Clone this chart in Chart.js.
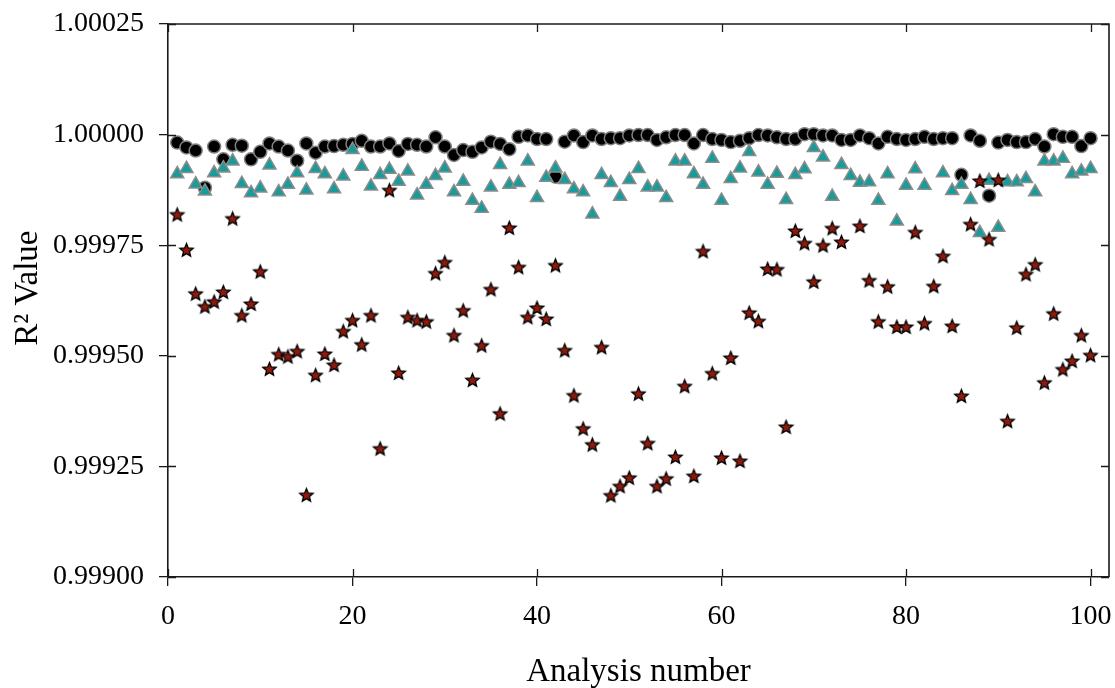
<!DOCTYPE html>
<html>
<head>
<meta charset="utf-8">
<script src="https://cdn.jsdelivr.net/npm/chart.js@4.4.1/dist/chart.umd.min.js"></script>
<style>
html,body{margin:0;padding:0;background:#fff;}
#wrap{width:1115px;height:688px;position:relative;}
</style>
</head>
<body>
<div id="wrap"><canvas id="c" width="1115" height="688"></canvas></div>
<script>
// ---------- data ----------
const analysisNumber = [1,2,3,4,5,6,7,8,9,10,11,12,13,14,15,16,17,18,19,20,
  21,22,23,24,25,26,27,28,29,30,31,32,33,34,35,36,37,38,39,40,
  41,42,43,44,45,46,47,48,49,50,51,52,53,54,55,56,57,58,59,60,
  61,62,63,64,65,66,67,68,69,70,71,72,73,74,75,76,77,78,79,80,
  81,82,83,84,85,86,87,88,89,90,91,92,93,94,95,96,97,98,99,100];

const circleR2 = [0.999982,0.999971,0.999964,0.999880,0.999973,0.999944,0.999977,0.999975,0.999944,0.999961,
  0.999980,0.999973,0.999964,0.999941,0.999980,0.999959,0.999973,0.999974,0.999977,0.999979,
  0.999986,0.999973,0.999973,0.999980,0.999963,0.999979,0.999977,0.999973,0.999994,0.999973,
  0.999954,0.999965,0.999961,0.999971,0.999984,0.999979,0.999967,0.999995,0.999998,0.999990,
  0.999990,0.999905,0.999984,0.999998,0.999983,0.999998,0.999990,0.999992,0.999992,0.999998,
  0.999999,0.999999,0.999988,0.999994,0.999999,0.999999,0.999980,0.999999,0.999990,0.999988,
  0.999983,0.999986,0.999992,0.999999,0.999998,0.999994,0.999990,0.999990,1.000001,1.000001,
  0.999998,0.999998,0.999988,0.999988,0.999998,0.999992,0.999980,0.999995,0.999990,0.999988,
  0.999990,0.999995,0.999990,0.999992,0.999992,0.999909,0.999998,0.999986,0.999862,0.999982,
  0.999988,0.999983,0.999983,0.999990,0.999973,1.000001,0.999995,0.999995,0.999974,0.999992];

const triangleR2 = [0.999911,0.999923,0.999888,0.999872,0.999913,0.999924,0.999940,0.999889,0.999868,0.999879,
  0.999931,0.999870,0.999887,0.999913,0.999874,0.999923,0.999911,0.999877,0.999906,0.999966,
  0.999928,0.999883,0.999909,0.999921,0.999894,0.999917,0.999863,0.999887,0.999907,0.999924,
  0.999870,0.999894,0.999851,0.999833,0.999881,0.999932,0.999887,0.999891,0.999940,0.999857,
  0.999903,0.999924,0.999898,0.999877,0.999870,0.999820,0.999909,0.999891,0.999860,0.999898,
  0.999923,0.999881,0.999881,0.999857,0.999940,0.999940,0.999911,0.999887,0.999946,0.999851,
  0.999900,0.999924,0.999961,0.999915,0.999887,0.999912,0.999853,0.999909,0.999922,0.999970,
  0.999949,0.999860,0.999932,0.999907,0.999892,0.999893,0.999851,0.999911,0.999804,0.999885,
  0.999922,0.999885,null,0.999913,0.999873,0.999887,0.999853,0.999778,0.999896,0.999790,
  0.999893,0.999893,0.999900,0.999870,0.999940,0.999940,0.999946,0.999911,0.999917,0.999923];

const starR2 = [0.999818,0.999738,0.999639,0.999610,0.999621,0.999643,0.999809,0.999590,0.999616,0.999689,
  0.999469,0.999502,0.999497,0.999509,0.999184,0.999455,0.999503,0.999478,0.999554,0.999579,
  0.999524,0.999590,0.999289,0.999873,0.999460,0.999586,0.999579,0.999576,0.999685,0.999710,
  0.999545,0.999601,0.999444,0.999522,0.999649,0.999368,0.999788,0.999699,0.999586,0.999607,
  0.999582,0.999703,0.999511,0.999409,0.999334,0.999298,0.999518,0.999183,0.999204,0.999223,
  0.999413,0.999301,0.999204,0.999221,0.999270,0.999430,0.999227,0.999735,0.999459,0.999268,
  0.999494,0.999261,0.999596,0.999577,0.999695,0.999694,0.999338,0.999781,0.999753,0.999666,
  0.999748,0.999787,0.999756,null,0.999792,0.999669,0.999576,0.999655,0.999564,0.999564,
  0.999778,0.999572,0.999656,0.999724,0.999566,0.999408,0.999796,0.999894,0.999762,0.999896,
  0.999351,0.999562,0.999683,0.999705,0.999438,0.999594,0.999468,0.999487,0.999545,0.999500];

const xTickValues = [0,20,40,60,80,100];
const xTickLabels = ['0','20','40','60','80','100'];
const yTickValues = [0.99900,0.99925,0.99950,0.99975,1.00000,1.00025];
const yTickLabels = ['0.99900','0.99925','0.99950','0.99975','1.00000','1.00025'];
const xTitle = 'Analysis number';
const yTitle = '   R\u00B2 Value';

// ---------- helpers ----------
const FONT = '"Liberation Serif", "Times New Roman", Times, serif';
function toPoints(ys){ return analysisNumber.map((n,k)=>({x:n, y:ys[k]})); }

function makeStar(R, r, fill, stroke, lw){
  const size = Math.ceil(2*R + 2*lw + 2);
  const c = document.createElement('canvas');
  c.width = size; c.height = size;
  const g = c.getContext('2d');
  const cx = size/2, cy = size/2;
  g.beginPath();
  for (let k = 0; k < 10; k++){
    const rad = (k % 2) ? r : R;
    const a = -Math.PI/2 + k*Math.PI/5;
    g.lineTo(cx + rad*Math.cos(a), cy + rad*Math.sin(a));
  }
  g.closePath();
  g.fillStyle = fill; g.fill();
  g.lineWidth = lw; g.strokeStyle = stroke; g.lineJoin = 'miter';
  g.stroke();
  return c;
}
const starImg = makeStar(7, 3.1, '#8e1a0c', '#000000', 1.3);

const framePlugin = {
  id: 'frame',
  afterDraw(chart){
    const {ctx, chartArea:a, scales:{x, y}} = chart;
    ctx.save();
    ctx.strokeStyle = '#1a1a1a';
    ctx.lineWidth = 1.6;
    ctx.beginPath();
    ctx.moveTo(a.left, a.top); ctx.lineTo(a.right, a.top); ctx.lineTo(a.right, a.bottom);
    ctx.stroke();
    ctx.lineWidth = 1.3;
    ctx.beginPath();
    x.ticks.forEach(t => {
      const px = Math.round(x.getPixelForValue(t.value)) + 0.5;
      ctx.moveTo(px, a.bottom); ctx.lineTo(px, a.bottom - 8);
      ctx.moveTo(px, a.top); ctx.lineTo(px, a.top + 8);
    });
    y.ticks.forEach(t => {
      const py = Math.round(y.getPixelForValue(t.value)) + 0.5;
      ctx.moveTo(a.left, py); ctx.lineTo(a.left + 8, py);
      ctx.moveTo(a.right, py); ctx.lineTo(a.right - 8, py);
    });
    ctx.stroke();
    ctx.restore();
  }
};

new Chart(document.getElementById('c'), {
  type: 'scatter',
  data: {
    datasets: [
      { label: 'stars', data: toPoints(starR2), pointStyle: starImg, order: 1 },
      { label: 'triangles', data: toPoints(triangleR2), pointStyle: 'triangle', pointRadius: 7.5,
        backgroundColor: '#189b9b', borderColor: '#8c8c8c', borderWidth: 1.5, order: 2 },
      { label: 'circles', data: toPoints(circleR2), pointStyle: 'circle', pointRadius: 6.5,
        backgroundColor: '#000000', borderColor: '#808080', borderWidth: 1.5, order: 3 }
    ]
  },
  options: {
    responsive: false,
    animation: false,
    devicePixelRatio: 1,
    layout: { autoPadding: false, padding: { left: 0, right: 6, top: 24, bottom: 0 } },
    plugins: { legend: { display: false }, tooltip: { enabled: false } },
    scales: {
      x: {
        type: 'linear', position: 'bottom', min: 0, max: 102,
        afterBuildTicks: s => { s.ticks = xTickValues.map(v => ({value: v})); },
        afterFit: s => { s.height = 111; s.paddingLeft = 0; s.paddingRight = 0; },
        ticks: { callback: (v, i) => xTickLabels[i], color: '#000', padding: 14,
                 font: { family: FONT, size: 28 }, maxRotation: 0 },
        grid: { drawOnChartArea: false, drawTicks: true, tickLength: 9, color: '#1a1a1a', lineWidth: 1.3 },
        border: { display: true, color: '#1a1a1a', width: 1.6 },
        title: { display: true, text: xTitle, color: '#000', font: { family: FONT, size: 33, lineHeight: 1 },
                 padding: { top: 0, bottom: -1 } }
      },
      y: {
        type: 'linear', position: 'left', min: 0.999, max: 1.00025,
        afterBuildTicks: s => { s.ticks = yTickValues.map(v => ({value: v})); },
        afterFit: s => { s.width = 168; s.paddingTop = 0; s.paddingBottom = 0; },
        ticks: { callback: (v, i) => yTickLabels[i], color: '#000', padding: 15,
                 font: { family: FONT, size: 28 } },
        grid: { drawOnChartArea: false, drawTicks: true, tickLength: 9, color: '#1a1a1a', lineWidth: 1.3 },
        border: { display: true, color: '#1a1a1a', width: 1.6 },
        title: { display: true, text: yTitle, color: '#000', font: { family: FONT, size: 33, lineHeight: 1 },
                 padding: { top: 11.5, bottom: 0 } }
      }
    }
  },
  plugins: [framePlugin]
});
</script>
</body>
</html>
